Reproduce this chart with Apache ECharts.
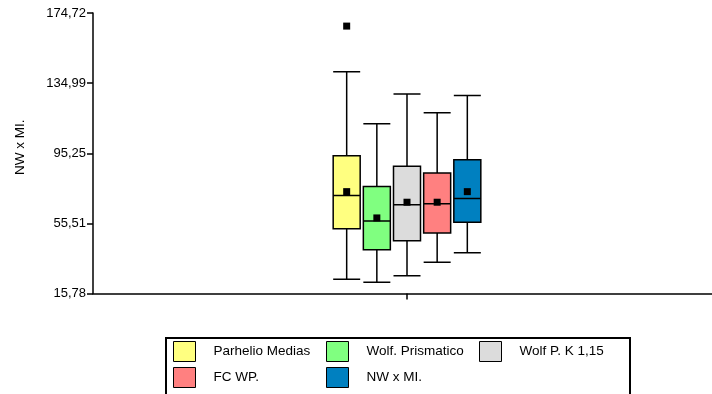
<!DOCTYPE html>
<html><head><meta charset="utf-8">
<script src="https://cdn.jsdelivr.net/npm/echarts@6/dist/echarts.min.js"></script>
<style>html,body{margin:0;padding:0;background:#fff}#c{width:712px;height:394px}</style>
</head><body><div id="c"></div>
<script>
// ---- data ----
const categories = ['Parhelio Medias', 'Wolf. Prismatico', 'Wolf P. K 1,15', 'FC WP.', 'NW x MI.'];
const whiskerLow  = [23.8, 22.1, 25.9, 33.5, 38.8];
const q1          = [52.4, 40.5, 45.7, 50.1, 56.2];
const median      = [71.3, 56.9, 66.0, 66.7, 69.6];
const q3          = [93.9, 76.4, 87.9, 84.0, 91.5];
const whiskerHigh = [141.4, 111.9, 128.8, 118.2, 128.0];
const means       = [73.5, 58.6, 67.5, 67.5, 73.5];
const outliers    = [['Parhelio Medias', 167.3]];
const yTickLabels = ['15,78', '55,51', '95,25', '134,99', '174,72'];
const yMin = 15.78, yMax = 174.72;
const yTitle = 'NW x MI.';

// ---- styles / layout ----
const colors = ['#FFFF80', '#80FF80', '#DCDCDC', '#FF8080', '#0080C0'];
const legendPos = [[173, 341], [326, 341], [479, 341], [173, 367], [326, 367]];
const FONT = '"Liberation Sans", Arial, sans-serif';

const chart = echarts.init(document.getElementById('c'), null, {renderer: 'canvas'});

const boxData = categories.map((c, i) => ({
  name: c,
  value: [whiskerLow[i], q1[i], median[i], q3[i], whiskerHigh[i]],
  itemStyle: {color: colors[i]}
}));

const meanSeries = categories.map((c, i) => ({
  name: c,
  type: 'scatter',
  xAxisIndex: 1, yAxisIndex: 1,
  symbol: 'rect', symbolSize: 7,
  itemStyle: {color: '#000', opacity: 1},
  data: [[c, means[i]]],
  z: 5,
  silent: true
}));

const legends = categories.map((c, i) => ({
  left: legendPos[i][0], top: legendPos[i][1],
  padding: 0,
  itemWidth: 22, itemHeight: 20,
  selectedMode: false,
  textStyle: {fontSize: 13.5, color: '#000', fontFamily: FONT, padding: [0, 0, 0, 13]},
  data: [{name: c, icon: 'rect', itemStyle: {color: colors[i], borderColor: '#000', borderWidth: 1, opacity: 1}}]
}));

const axisLineStyle = {color: '#000', width: 1.5};

chart.setOption({
  animation: false,
  textStyle: {fontFamily: FONT},
  legend: legends,
  graphic: [{
    type: 'rect', shape: {x: 166, y: 338, width: 464, height: 80},
    style: {fill: 'none', stroke: '#000', lineWidth: 2}, silent: true
  }],
  grid: [
    {left: 93, top: 13, width: 628, height: 280.5, containLabel: false, outerBoundsMode: 'none'},
    {left: 331.6, top: 13, width: 150.8, height: 280.5, containLabel: false, outerBoundsMode: 'none'}
  ],
  xAxis: [
    {gridIndex: 0, type: 'category', data: [''], boundaryGap: true,
     axisLine: {lineStyle: axisLineStyle},
     axisTick: {show: true, alignWithLabel: true, length: 6, lineStyle: axisLineStyle},
     axisLabel: {show: false}, splitLine: {show: false}},
    {gridIndex: 1, type: 'category', data: categories, show: false}
  ],
  yAxis: [
    {gridIndex: 0, type: 'category', data: yTickLabels, boundaryGap: false,
     name: yTitle, nameLocation: 'middle', nameGap: 66, nameRotate: 90,
     nameTextStyle: {fontSize: 13.5, color: '#000', fontFamily: FONT, padding: [0, 0, 0, 12]},
     axisLine: {lineStyle: axisLineStyle},
     axisTick: {show: true, length: 6, lineStyle: axisLineStyle},
     axisLabel: {interval: 0, fontSize: 13, color: '#000', margin: 7, fontFamily: FONT},
     splitLine: {show: false}},
    {gridIndex: 1, type: 'value', min: yMin, max: yMax, show: false, splitLine: {show: false}}
  ],
  series: [
    {
      name: 'box', type: 'boxplot', xAxisIndex: 1, yAxisIndex: 1,
      boxWidth: [27, 27],
      itemStyle: {borderColor: '#000', borderWidth: 1.5},
      emphasis: {disabled: true},
      silent: true,
      data: boxData
    },
    ...meanSeries,
    {
      name: 'outliers', type: 'scatter', xAxisIndex: 1, yAxisIndex: 1,
      symbol: 'rect', symbolSize: 7, itemStyle: {color: '#000', opacity: 1},
      data: outliers, z: 5, silent: true
    }
  ]
});
</script>
</body></html>
